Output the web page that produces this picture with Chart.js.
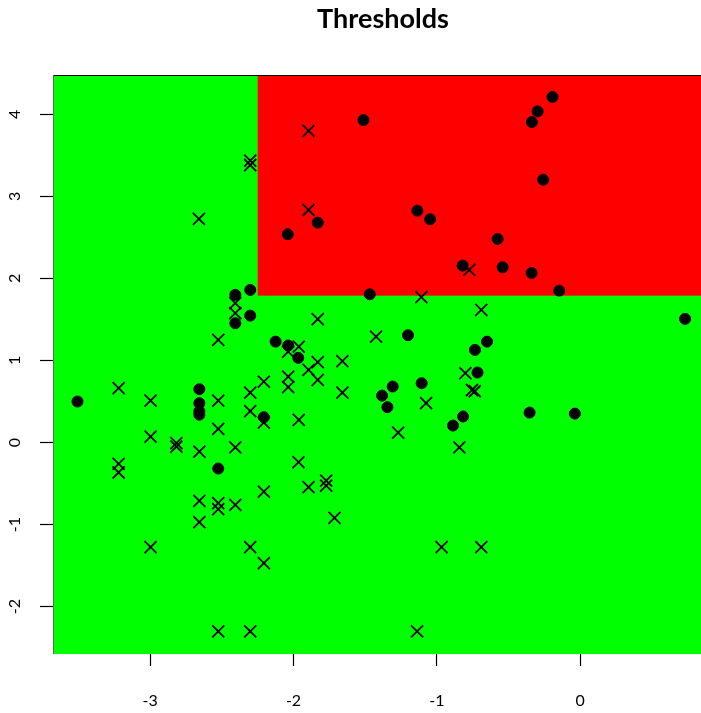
<!DOCTYPE html>
<html>
<head>
<meta charset="utf-8">
<title>Thresholds</title>
<script src="https://cdn.jsdelivr.net/npm/chart.js@4.4.1/dist/chart.umd.min.js"></script>
<style>
  html, body { margin: 0; padding: 0; background: #fff; }
</style>
</head>
<body>
<canvas id="chart" width="701" height="713"></canvas>
<script>
// class 1 (filled dots)
const dotX = [-3.507, -2.657, -2.657, -2.657, -2.657, -2.525, -2.406, -2.406, -2.302, -2.302,
              -2.207, -2.125, -2.040, -2.037, -1.967, -1.831, -1.512, -1.468, -1.382, -1.345,
              -1.308, -1.201, -1.136, -1.106, -1.047, -0.887, -0.817, -0.820, -0.734, -0.716,
              -0.650, -0.576, -0.541, -0.353, -0.339, -0.337, -0.297, -0.258, -0.193, -0.146,
              -0.037, 0.732];
const dotY = [0.500, 0.650, 0.480, 0.380, 0.340, -0.317, 1.800, 1.454, 1.860, 1.547,
              0.309, 1.230, 2.538, 1.182, 1.032, 2.680, 3.930, 1.807, 0.572, 0.431,
              0.682, 1.308, 2.826, 0.723, 2.721, 0.207, 0.317, 2.156, 1.129, 0.853,
              1.230, 2.481, 2.136, 0.365, 2.067, 3.906, 4.036, 3.203, 4.211, 1.851,
              0.353, 1.507];

// class 2 (crosses)
const crossX = [-3.220, -3.220, -3.220, -2.997, -2.997, -2.997, -2.817, -2.817, -2.660, -2.657,
                -2.657, -2.657, -2.525, -2.525, -2.525, -2.525, -2.525, -2.525, -2.406, -2.406,
                -2.406, -2.406, -2.302, -2.302, -2.302, -2.302, -2.302, -2.302, -2.207, -2.207,
                -2.207, -2.207, -2.037, -2.037, -2.037, -1.963, -1.963, -1.965, -1.895, -1.895,
                -1.895, -1.895, -1.831, -1.831, -1.831, -1.772, -1.772, -1.714, -1.659, -1.659,
                -1.424, -1.270, -1.138, -1.108, -1.075, -0.967, -0.843, -0.801, -0.774, -0.755,
                -0.735, -0.690, -0.690];
const crossY = [0.663, -0.260, -0.365, 0.512, 0.073, -1.274, -0.007, -0.049, 2.725, -0.110,
                -0.710, -0.970, 1.251, 0.512, 0.167, -0.738, -0.811, -2.302, 1.698, 1.576,
                -0.060, -0.759, 3.435, 3.382, 0.609, 0.382, -1.274, -2.302, 0.743, 0.244,
                -0.597, -1.469, 1.108, 0.804, 0.675, 1.169, 0.276, -0.239, 3.797, 2.834,
                0.886, -0.543, 1.503, 0.979, 0.764, -0.463, -0.524, -0.917, 0.991, 0.609,
                1.291, 0.122, -2.302, 1.771, 0.480, -1.274, -0.060, 0.845, 2.104, 0.640,
                0.625, 1.616, -1.274];

// region split
const xThreshold = -2.25;
const yThreshold = 1.79;

const xTicks = [-3, -2, -1, 0];
const yTicks = [-2, -1, 0, 1, 2, 3, 4];
const xRange = [-3.678, 0.843];
const yRange = [-2.577, 4.479];

const FONT = 'Lato, "Open Sans", sans-serif';

const toPoints = (xs, ys) => xs.map((x, i) => ({ x, y: ys[i] }));

// green/red regions behind the points
const regions = {
    id: 'regions',
    beforeDatasetsDraw(chart) {
        const { ctx, chartArea: a, scales: { x, y } } = chart;
        ctx.save();
        ctx.fillStyle = '#00ff00';
        ctx.fillRect(a.left, a.top, a.right - a.left, a.bottom - a.top);
        const rx = x.getPixelForValue(xThreshold);
        const ry = y.getPixelForValue(yThreshold);
        ctx.fillStyle = '#ff0000';
        ctx.fillRect(rx, a.top, a.right - rx, ry - a.top);
        // frame
        ctx.strokeStyle = '#000';
        ctx.lineWidth = 1;
        ctx.beginPath();
        ctx.moveTo(a.left, a.top + 0.5);
        ctx.lineTo(a.right, a.top + 0.5);
        ctx.stroke();
        ctx.strokeStyle = '#666';
        ctx.beginPath();
        ctx.moveTo(a.left + 0.5, a.top);
        ctx.lineTo(a.left + 0.5, a.bottom);
        ctx.stroke();
        ctx.restore();
    }
};

// title + rotated y tick labels
const annotate = {
    id: 'annotate',
    afterDraw(chart) {
        const { ctx, scales: { y } } = chart;
        ctx.save();
        ctx.fillStyle = '#000';
        ctx.font = 'bold 27px ' + FONT;
        ctx.textAlign = 'center';
        ctx.textBaseline = 'middle';
        ctx.fillText('Thresholds', 383, 19);

        ctx.font = '16px ' + FONT;
        yTicks.forEach(v => {
            ctx.save();
            ctx.translate(15, y.getPixelForValue(v));
            ctx.rotate(-Math.PI / 2);
            ctx.fillText(String(v), 0, 0);
            ctx.restore();
        });
        ctx.restore();
    }
};

new Chart(document.getElementById('chart'), {
    type: 'scatter',
    data: {
        datasets: [
            {
                data: toPoints(dotX, dotY),
                pointStyle: 'circle',
                pointRadius: 5.5,
                pointBorderWidth: 1,
                pointBackgroundColor: '#000',
                pointBorderColor: '#000'
            },
            {
                data: toPoints(crossX, crossY),
                pointStyle: 'crossRot',
                pointRadius: 8.5,
                pointBorderWidth: 1.8,
                pointBorderColor: '#000',
                pointBackgroundColor: '#000'
            }
        ]
    },
    options: {
        responsive: false,
        animation: false,
        events: [],
        layout: { autoPadding: false, padding: { top: 75, left: 0, right: 0, bottom: 0 } },
        plugins: {
            legend: { display: false },
            tooltip: { enabled: false },
            title: { display: false }
        },
        scales: {
            x: {
                type: 'linear',
                min: xRange[0],
                max: xRange[1],
                afterBuildTicks: s => { s.ticks = xTicks.map(value => ({ value })); },
                afterFit: s => { s.height = 59; s.paddingLeft = 0; s.paddingRight = 0; },
                grid: { drawOnChartArea: false, drawTicks: true, tickLength: 12, color: '#000', tickWidth: 1.2 },
                border: { display: false },
                ticks: { color: '#000', padding: 25, font: { family: FONT, size: 16 }, maxRotation: 0 }
            },
            y: {
                type: 'linear',
                min: yRange[0],
                max: yRange[1],
                afterBuildTicks: s => { s.ticks = yTicks.map(value => ({ value })); },
                afterFit: s => { s.width = 53; },
                grid: { drawOnChartArea: false, drawTicks: true, tickLength: 13, color: '#000', tickWidth: 1.2 },
                border: { display: false },
                ticks: { display: false }
            }
        }
    },
    plugins: [regions, annotate]
});
</script>
</body>
</html>
